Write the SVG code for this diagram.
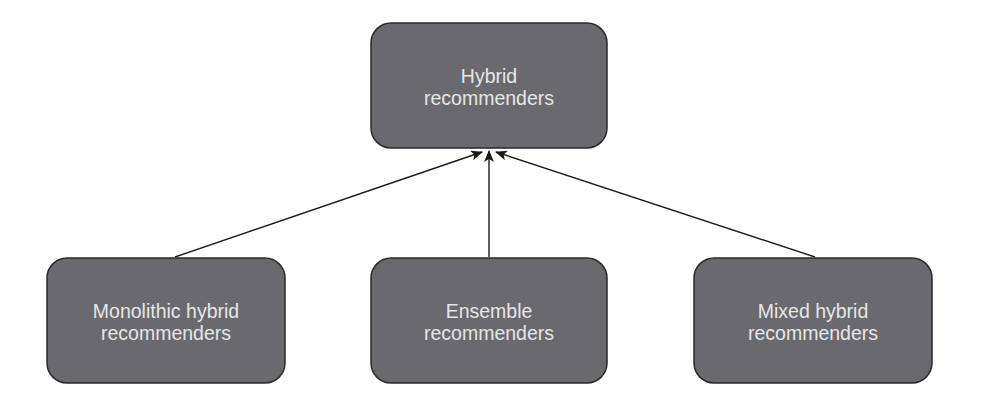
<svg xmlns="http://www.w3.org/2000/svg" width="994" height="409" viewBox="0 0 994 409">
<defs>
<marker id="ah" markerWidth="12" markerHeight="10" refX="11" refY="5" orient="auto" markerUnits="userSpaceOnUse">
<path d="M0,0 L12,5 L0,10 L3,5 Z" fill="#1a1a1a"/>
</marker>
<style>
.box{fill:#6a6a6e;stroke:#2a2a2a;stroke-width:1.5}
.lbl{fill:#e6e6e6;font-family:"Liberation Sans",Arial,sans-serif;font-size:19.5px;text-anchor:middle}
.conn{stroke:#1a1a1a;stroke-width:1.4;fill:none;marker-end:url(#ah)}
</style>
</defs>
<rect width="994" height="409" fill="#ffffff"/>
<g id="connectors">
<line class="conn" x1="175" y1="257" x2="482" y2="152"/>
<line class="conn" x1="489" y1="257" x2="489" y2="151"/>
<line class="conn" x1="815" y1="257" x2="496" y2="152"/>
</g>
<g id="hybrid">
<rect class="box" x="371" y="23" width="236" height="125" rx="20"/>
<text class="lbl" x="489" y="83">Hybrid</text>
<text class="lbl" x="489" y="105">recommenders</text>
</g>
<g id="monolithic">
<rect class="box" x="47" y="258" width="238" height="125" rx="20"/>
<text class="lbl" x="166" y="318">Monolithic hybrid</text>
<text class="lbl" x="166" y="340">recommenders</text>
</g>
<g id="ensemble">
<rect class="box" x="371" y="258" width="236" height="125" rx="20"/>
<text class="lbl" x="489" y="318">Ensemble</text>
<text class="lbl" x="489" y="340">recommenders</text>
</g>
<g id="mixed">
<rect class="box" x="694" y="258" width="238" height="125" rx="20"/>
<text class="lbl" x="813" y="318">Mixed hybrid</text>
<text class="lbl" x="813" y="340">recommenders</text>
</g>
</svg>
